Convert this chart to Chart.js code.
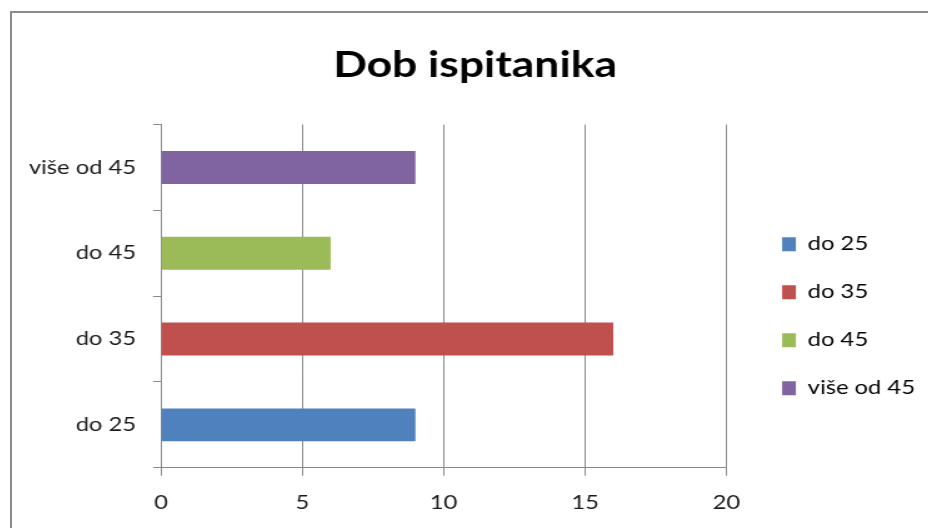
<!DOCTYPE html>
<html>
<head>
<meta charset="utf-8">
<script src="https://cdn.jsdelivr.net/npm/chart.js@4/dist/chart.umd.min.js"></script>
<style>
  html, body { margin: 0; padding: 0; background: #fff; overflow: hidden; }
  #frame {
    position: absolute; left: 10px; top: 11px;
    width: 940px; height: 545px;
    border: 2px solid #8a8a8a; overflow: hidden; background: #fff;
  }
  /* the reference is stretched sideways, so the canvas is too */
  #chart { position: absolute; left: 0; top: 0; transform: scaleX(1.25); transform-origin: 0 0; }
</style>
</head>
<body>
<div id="frame">
  <canvas id="chart" width="742" height="530"></canvas>
</div>
<script>
// podaci
const categories = ['do 25', 'do 35', 'do 45', 'više od 45']
const counts = [9, 16, 6, 9]
const barColors = ['#4F81BD', '#C0504D', '#9BBB59', '#8064A2']
const axisMin = 0
const axisMax = 20
const axisStep = 5

const gridColor = '#898989'
const textColor = '#1a1a1a'
const font = 'Lato'

// pomak legende i naslova (Chart.js ih drzi uz rub podrucja grafa)
const blockShift = {
  id: 'blockShift',
  afterLayout(chart) {
    const lg = chart.legend
    const dx = 15.6, dy = 44.5
    lg.left += dx; lg.right += dx
    lg.top += dy; lg.bottom += dy
    const t = chart.titleBlock
    t.left += 12; t.right += 12
  }
}

new Chart(document.getElementById('chart'), {
  type: 'bar',
  data: {
    labels: categories,
    datasets: [{
      data: counts,
      backgroundColor: barColors,
      borderWidth: 0,
      categoryPercentage: 1,
      barPercentage: 0.383
    }]
  },
  options: {
    indexAxis: 'y',
    responsive: false,
    animation: false,
    layout: { padding: { left: 0, right: 25.2, top: 0, bottom: 12.5 } },
    scales: {
      x: {
        min: axisMin,
        max: axisMax,
        ticks: { stepSize: axisStep, color: textColor, padding: 16, font: { family: font, size: 19 } },
        grid: { color: gridColor, lineWidth: 1, tickLength: 8, drawTicks: true },
        border: { color: gridColor, width: 1 }
      },
      y: {
        reverse: true,
        afterFit(scale) { scale.width = 119.2 },
        ticks: { color: textColor, padding: 13.6, font: { family: font, size: 19 } },
        grid: { color: gridColor, lineWidth: 1, drawOnChartArea: false, tickLength: 6.4, offset: true },
        border: { color: gridColor, width: 1 }
      }
    },
    plugins: {
      title: {
        display: true,
        text: 'Dob ispitanika',
        color: '#000',
        font: { family: font, size: 35.5, weight: 'bold' },
        padding: { top: 31, bottom: 38 }
      },
      legend: {
        position: 'right',
        labels: {
          boxWidth: 11,
          boxHeight: 14,
          padding: 29,
          color: textColor,
          font: { family: font, size: 19 },
          generateLabels(chart) {
            return categories.map((c, i) => ({
              text: c,
              fillStyle: barColors[i],
              strokeStyle: barColors[i],
              lineWidth: 0,
              hidden: false,
              index: i
            }))
          }
        }
      },
      tooltip: { enabled: false }
    }
  },
  plugins: [blockShift]
})
</script>
</body>
</html>
